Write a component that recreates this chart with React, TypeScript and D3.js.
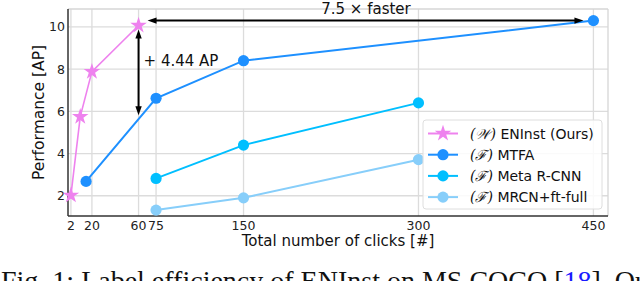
import React from "react";
import * as d3 from "d3";

const xTicks = [2, 20, 60, 75, 150, 300, 450];
const yTicks = [2, 4, 6, 8, 10];

const eninstX = [2, 10, 20, 60];
const eninstY = [2.02, 5.75, 7.88, 10.07];
const mtfaX = [15, 75, 150, 450];
const mtfaY = [2.68, 6.62, 8.4, 10.3];
const metaX = [75, 150, 300];
const metaY = [2.82, 4.4, 6.4];
const mrcnX = [75, 150, 300];
const mrcnY = [1.32, 1.9, 3.71];

const seriesNames = ["ENInst (Ours)", "MTFA", "Meta R-CNN", "MRCN+ft-full"];
const seriesPrefix = ["(𝒲)", "(ℱ)", "(ℱ)", "(ℱ)"];
const seriesColors = ["#EE82EE", "#1E90FF", "#00BFFF", "#87CEFA"];

const gainLabel = "+ 4.44 AP";
const speedLabel = "7.5 × faster";
const xLabel = "Total number of clicks [#]";
const yLabel = "Performance [AP]";

export default function App() {
  const W = 640, H = 281;
  const left = 68, right = 608, top = 9, bottom = 216;
  const x = d3.scaleLinear().domain([-0.5, 462.5]).range([left, right]);
  const y = d3.scaleLinear().domain([1.04, 10.85]).range([bottom, top]);
  const line = d3.line<[number, number]>().x(d => x(d[0])).y(d => y(d[1]));
  const star = d3.symbol().type(d3.symbolStar).size(85)();
  const font = "DejaVu Sans, sans-serif";

  const series = [
    { xs: eninstX, ys: eninstY, w: 1.6 },
    { xs: mtfaX, ys: mtfaY, w: 2 },
    { xs: metaX, ys: metaY, w: 2 },
    { xs: mrcnX, ys: mrcnY, w: 2 },
  ];

  const ax60 = x(60);
  const hY = y(10.3);
  const arrowHead = (tipX: number, tipY: number, dir: "l" | "r" | "u" | "d") => {
    const L = 9, Wd = 3.2;
    let pts: number[][] = [];
    if (dir === "l") pts = [[tipX, tipY], [tipX + L, tipY - Wd], [tipX + L, tipY + Wd]];
    if (dir === "r") pts = [[tipX, tipY], [tipX - L, tipY - Wd], [tipX - L, tipY + Wd]];
    if (dir === "u") pts = [[tipX, tipY], [tipX - Wd, tipY + L], [tipX + Wd, tipY + L]];
    if (dir === "d") pts = [[tipX, tipY], [tipX - Wd, tipY - L], [tipX + Wd, tipY - L]];
    return <polygon points={pts.map(p => p.join(",")).join(" ")} fill="black" />;
  };

  const hx1 = ax60 + 9, hx2 = x(450) - 10;
  const vy1 = y(10.07) + 4, vy2 = y(5.63) - 4;

  const legX = 423, legY = 120, legW = 179, legH = 89;

  return (
    <svg width={W} height={H} style={{ position: "absolute", left: 0, top: 0 }} fontFamily={font}>
      <rect x={0} y={0} width={W} height={H} fill="white" />
      {/* grid */}
      {xTicks.map(t => (
        <line key={"gx" + t} x1={x(t)} x2={x(t)} y1={top} y2={bottom} stroke="#dcdcdc" strokeWidth={1.3} />
      ))}
      {yTicks.map(t => (
        <line key={"gy" + t} x1={left} x2={right} y1={y(t)} y2={y(t)} stroke="#dcdcdc" strokeWidth={1.3} />
      ))}
      {/* frame */}
      <line x1={left} x2={right} y1={top} y2={top} stroke="#d6d6d6" strokeWidth={1.3} />
      <line x1={right} x2={right} y1={top} y2={bottom} stroke="#d6d6d6" strokeWidth={1.3} />
      <line x1={left} x2={left} y1={top} y2={bottom} stroke="#333" strokeWidth={1.5} />
      <line x1={left} x2={right} y1={bottom} y2={bottom} stroke="#333" strokeWidth={1.5} />
      {/* tick labels */}
      {xTicks.map(t => (
        <text key={"tx" + t} x={x(t)} y={bottom + 14} fontSize={12.5} textAnchor="middle" fill="#222">{t}</text>
      ))}
      {yTicks.map(t => (
        <text key={"ty" + t} x={left - 3} y={y(t) + 4.5} fontSize={12.5} textAnchor="end" fill="#222">{t}</text>
      ))}
      <text x={(left + right) / 2} y={246} fontSize={15} textAnchor="middle" fill="#111">{xLabel}</text>
      <text transform={`translate(44,${(top + bottom) / 2}) rotate(-90)`} fontSize={15.5} textAnchor="middle" fill="#111">{yLabel}</text>
      {/* series */}
      {series.map((s, i) => {
        const pts = s.xs.map((v, j) => [v, s.ys[j]] as [number, number]);
        return (
          <g key={"s" + i}>
            <path d={line(pts) || ""} fill="none" stroke={seriesColors[i]} strokeWidth={s.w} />
            {pts.map((p, j) =>
              i === 0 ? (
                <path key={j} d={star || ""} transform={`translate(${x(p[0])},${y(p[1])})`} fill={seriesColors[i]} />
              ) : (
                <circle key={j} cx={x(p[0])} cy={y(p[1])} r={5.6} fill={seriesColors[i]} />
              )
            )}
          </g>
        );
      })}
      {/* annotations */}
      <line x1={hx1 + 6} x2={hx2 - 6} y1={hY} y2={hY} stroke="black" strokeWidth={2} />
      {arrowHead(hx1, hY, "l")}
      {arrowHead(hx2, hY, "r")}
      <text x={(x(60) + x(450)) / 2} y={14} fontSize={15} textAnchor="middle" fill="#111">{speedLabel}</text>
      <line x1={ax60} x2={ax60} y1={vy1 + 6} y2={vy2 - 6} stroke="black" strokeWidth={2} />
      {arrowHead(ax60, vy1, "u")}
      {arrowHead(ax60, vy2, "d")}
      <text x={ax60 + 5} y={66} fontSize={15} fill="#111">{gainLabel}</text>
      {/* legend */}
      <rect x={legX} y={legY} width={legW} height={legH} rx={3} fill="white" fillOpacity={0.85} stroke="#dedede" strokeWidth={1} />
      {seriesNames.map((n, i) => {
        const cy = legY + 13.5 + i * 21.2;
        return (
          <g key={"l" + i}>
            <line x1={legX + 5} x2={legX + 35} y1={cy} y2={cy} stroke={seriesColors[i]} strokeWidth={2} />
            {i === 0 ? (
              <path d={star || ""} transform={`translate(${legX + 20},${cy})`} fill={seriesColors[i]} />
            ) : (
              <circle cx={legX + 20} cy={cy} r={5.6} fill={seriesColors[i]} />
            )}
            <text x={legX + 47} y={cy + 5} fontSize={14} fill="#111">
              <tspan fontFamily="DejaVu Serif, serif" fontStyle="italic">{seriesPrefix[i]}</tspan> {n}
            </text>
          </g>
        );
      })}
      {/* caption */}
      <text x={1} y={290} fontSize={28} fontFamily="Liberation Serif, Times New Roman, serif" fill="#111">
        Fig. 1: Label efficiency of ENInst on MS COCO [<tspan fill="#1a1aff">18</tspan>]. Our
      </text>
    </svg>
  );
}
